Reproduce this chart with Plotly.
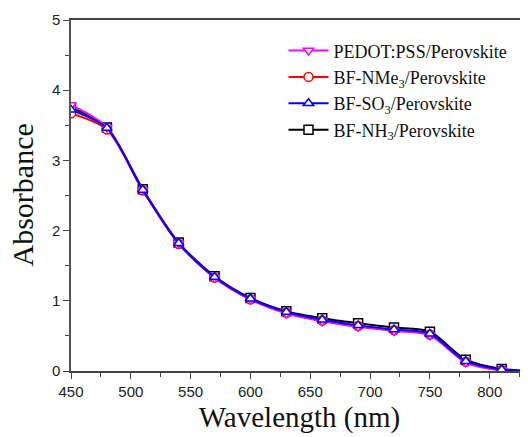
import plotly.graph_objects as go

wavelength = [450, 480, 510, 540, 570, 600, 630, 660, 690, 720, 750, 780, 810, 840]

pedot = [3.79, 3.47, 2.58, 1.82, 1.33, 1.02, 0.82, 0.71, 0.63, 0.57, 0.51, 0.12, 0.01, 0.0]
nme3 = [3.67, 3.44, 2.57, 1.81, 1.33, 1.02, 0.83, 0.72, 0.64, 0.58, 0.52, 0.13, 0.01, 0.0]
so3 = [3.72, 3.46, 2.58, 1.82, 1.34, 1.03, 0.84, 0.73, 0.65, 0.59, 0.53, 0.14, 0.02, 0.0]
nh3 = [3.75, 3.47, 2.59, 1.83, 1.35, 1.04, 0.85, 0.75, 0.68, 0.62, 0.56, 0.16, 0.03, 0.0]

names = ["PEDOT:PSS/Perovskite", "BF-NMe<sub>3</sub>/Perovskite",
         "BF-SO<sub>3</sub>/Perovskite", "BF-NH<sub>3</sub>/Perovskite"]
colors = ["#ff00ff", "#ff0000", "#0000ff", "#000000"]
symbols = ["triangle-down", "circle", "triangle-up", "square"]
series = [pedot, nme3, so3, nh3]
ranks = [1, 2, 3, 4]
draw_order = [3, 1, 0, 2]

fig = go.Figure()
for i in draw_order:
    fig.add_trace(go.Scatter(
        x=wavelength, y=series[i], name=names[i], mode="lines+markers",
        line=dict(color=colors[i], width=2, shape="spline", smoothing=0.8),
        marker=dict(symbol=symbols[i], size=9, color="white",
                    line=dict(color=colors[i], width=1.5)),
        legendrank=ranks[i], cliponaxis=True,
    ))

fig.add_annotation(
    text="Absorbance", xref="paper", yref="paper", x=0, y=0.5,
    xanchor="center", yanchor="middle", xshift=-49, textangle=-90,
    showarrow=False,
    font=dict(family="Liberation Serif, Times New Roman", size=30, color="#111"),
)

fig.update_layout(
    width=520, height=429,
    margin=dict(l=63, r=0, t=12, b=66),
    paper_bgcolor="white", plot_bgcolor="white",
    font=dict(family="Liberation Sans, Arial", size=15, color="#222"),
    showlegend=True,
    legend=dict(x=0.465, y=0.965, xanchor="left", yanchor="top",
                bgcolor="rgba(0,0,0,0)", tracegroupgap=0, itemwidth=40,
                font=dict(family="Liberation Serif, Times New Roman", size=18, color="#111")),
    xaxis=dict(
        range=[450, 832], tickmode="array",
        tickvals=[450, 500, 550, 600, 650, 700, 750, 800],
        ticks="outside", ticklen=6, tickwidth=1.2, tickcolor="#444",
        minor=dict(tickvals=[475, 525, 575, 625, 675, 725, 775, 825], ticks="outside", ticklen=4, tickcolor="#444"),
        showline=True, linecolor="#444", linewidth=1.5, mirror=True,
        showgrid=False, zeroline=False, automargin=False,
        title=dict(text="Wavelength (nm)", font=dict(family="Liberation Serif, Times New Roman", size=29, color="#111"), standoff=8),
    ),
    yaxis=dict(
        range=[0, 5], tickvals=[0, 1, 2, 3, 4, 5],
        ticks="outside", ticklen=6, tickwidth=1.2, tickcolor="#444",
        minor=dict(tickvals=[0.5, 1.5, 2.5, 3.5, 4.5], ticks="outside", ticklen=4, tickcolor="#444"),
        showline=True, linecolor="#555", linewidth=1.5,
        showgrid=False, zeroline=False, automargin=False,
    ),
)

fig.write_html("out.html")
